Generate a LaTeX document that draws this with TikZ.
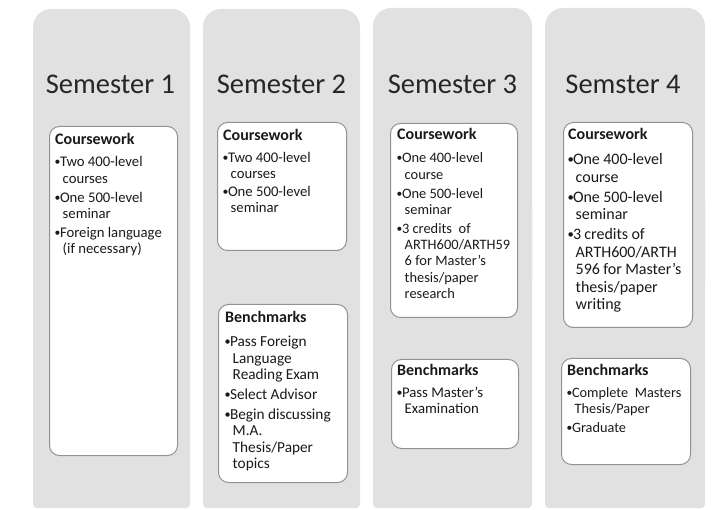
\documentclass[tikz,border=0pt]{standalone}
\usepackage{fontspec}
\setmainfont{Carlito}
\definecolor{panelgray}{HTML}{E1E1E1}
\definecolor{boxline}{HTML}{929292}
\definecolor{txtc}{HTML}{1A1A1A}
\definecolor{titlec}{HTML}{262626}
\newlength\bulw \setlength\bulw{4.8pt}
\newcommand\hd[2]{{\fontsize{16}{18}\selectfont\bfseries #1\par}\vspace{#2}}
\newcommand\itm[1]{\hangindent=7.5pt\hangafter=1\noindent\makebox[\bulw][l]{\hspace*{-0.6pt}\raisebox{0.07em}{\scalebox{0.8}{\textbullet}}}#1\par}
\newcommand\bsize[3]{\fontsize{#1}{#2}\selectfont\setlength\parskip{#3}}
\newcommand\panelfill[3]{%
  \fill[panelgray, rounded corners=18pt] (#1,#3) rectangle (#2,300);
  \fill[panelgray, rounded corners=4pt] (#1,200) rectangle (#2,508);}
\tikzset{
  cbox/.style={draw=boxline, line width=1pt, fill=white, rounded corners=10pt, anchor=north west, inner sep=0pt},
  boxtxt/.style={inner sep=0pt, anchor=base west, align=left, text width=#1, text=txtc},
  semtitle/.style={inner sep=0pt, anchor=base, text=titlec, font=\fontsize{28.5}{34}\selectfont}
}
\begin{document}
\begin{tikzpicture}[x=1pt, y=-1pt]
\useasboundingbox (0,0) rectangle (720,510);
\fill[white] (0,0) rectangle (720,510);
% panels
\panelfill{33}{190}{9}
\panelfill{203}{360}{9}
\panelfill{373}{532}{8}
\panelfill{545}{705}{8}
% titles
\node[semtitle] (t1) at (110.5,94) {Semester 1};
\node[semtitle] (t2) at (281.5,94) {Semester 2};
\node[semtitle] (t3) at (452.5,94) {Semester 3};
\node[semtitle] (t4) at (623,94) {Semster 4};
% boxes
\node[cbox, minimum width=128pt, minimum height=329pt] (c1) at (49,126) {};
\node[cbox, minimum width=129pt, minimum height=128pt] (c2) at (217,122) {};
\node[cbox, minimum width=129pt, minimum height=178pt] (b2) at (218,304) {};
\node[cbox, minimum width=127pt, minimum height=194pt] (c3) at (390,123) {};
\node[cbox, minimum width=127pt, minimum height=89pt] (b3) at (391,359) {};
\node[cbox, minimum width=129pt, minimum height=205pt] (c4) at (563,122) {};
\node[cbox, minimum width=129pt, minimum height=106pt] (b4) at (561,358) {};
% texts
\node[boxtxt=120pt] (c1t) at (55,144.5) {\bsize{14.7}{16.3}{2.7pt}%
  \hd{Coursework}{3.5pt}%
  \itm{Two 400-level\newline courses}%
  \itm{One 500-level\newline seminar}%
  \itm{Foreign language\newline (if necessary)}};
\node[boxtxt=120pt] (c2t) at (223,141) {\bsize{14.7}{16}{2pt}%
  \hd{Coursework}{4pt}%
  \itm{Two 400-level\newline courses}%
  \itm{One 500-level\newline seminar}};
\node[boxtxt=120pt] (b2t) at (225,323) {\bsize{15.3}{16.3}{3.7pt}%
  \hd{Benchmarks}{4pt}%
  \itm{Pass Foreign\newline Language\newline Reading Exam}%
  \itm{Select Advisor}%
  \itm{Begin discussing\newline M.A.\newline Thesis/Paper\newline topics}};
\node[boxtxt=120pt] (c3t) at (397,140) {\bsize{14.4}{16.3}{2.5pt}%
  \hd{Coursework}{4.2pt}%
  \itm{One 400-level\newline course}%
  \itm{One 500-level\newline seminar}%
  \itm{3 credits~ of\newline ARTH600/ARTH59\newline 6 for Master's\newline thesis/paper\newline research}};
\node[boxtxt=120pt] (b3t) at (397,375) {\bsize{14.8}{15.5}{3pt}%
  \hd{Benchmarks}{4.5pt}%
  \itm{Pass Master's\newline Examination}};
\node[boxtxt=125pt] (c4t) at (568,140) {\bsize{16}{17.5}{2.5pt}%
  \hd{Coursework}{5pt}%
  \itm{One 400-level\newline course}%
  \itm{One 500-level\newline seminar}%
  \itm{3 credits of\newline ARTH600/ARTH\newline 596 for Master's\newline thesis/paper\newline writing}};
\node[boxtxt=125pt] (b4t) at (567,375) {\bsize{14.3}{15.5}{3.5pt}%
  \hd{Benchmarks}{4pt}%
  \itm{Complete~ Masters\newline Thesis/Paper}%
  \itm{Graduate}};
\end{tikzpicture}
\end{document}
